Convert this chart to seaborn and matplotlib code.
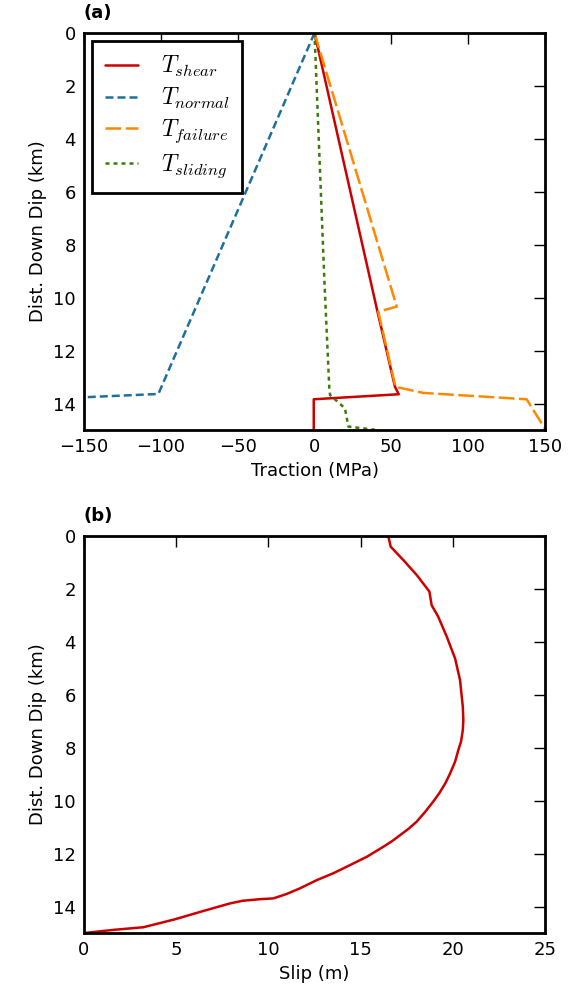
import matplotlib
matplotlib.use("Agg")
import matplotlib.pyplot as plt
import seaborn as sns

# Panel (a): tractions vs distance down dip
shear_x = [0, 40.7, 52.3, 54.8, -0.5, -0.5]
shear_y = [0, 10.46, 13.36, 13.65, 13.84, 15.0]

normal_x = [0, -101.6, -152]
normal_y = [0, 13.64, 13.77]

failure_x = [0, 53.5, 41.5, 52.7, 70.8, 138, 150.5]
failure_y = [0, 10.34, 10.53, 13.37, 13.6, 13.84, 15.0]

sliding_x = [0, 6.4, 9.6, 10.1, 19.8, 22, 40]
sliding_y = [0, 9.33, 13.4, 13.68, 14.18, 14.87, 15.0]

# Panel (b): slip profile
slip = [16.5, 16.63, 17.32, 18.04, 18.73, 18.85, 19.21, 19.67, 20.12, 20.39,
        20.54, 20.57, 20.54, 20.45, 20.3, 20.12, 19.85, 19.6, 19.28, 18.94,
        18.5, 18.04, 17.6, 17.14, 16.7, 16.23, 15.33, 14.43, 13.52, 12.62,
        11.71, 11.0, 10.27, 9.54, 8.6, 7.92, 6.4, 4.93, 3.22, 1.59, 0]
depth = [0, 0.40, 0.91, 1.47, 2.10, 2.61, 3.05, 3.80, 4.62, 5.44,
         6.45, 6.95, 7.33, 7.75, 8.08, 8.53, 8.97, 9.33, 9.7, 10.03,
         10.42, 10.79, 11.06, 11.3, 11.53, 11.74, 12.12, 12.43, 12.74, 13.0,
         13.31, 13.52, 13.69, 13.72, 13.78, 13.88, 14.18, 14.48, 14.78, 14.88, 15.0]

sns.set_style("white")
plt.rcParams.update({
    "font.family": ["DejaVu Sans"],
    "mathtext.fontset": "cm",
    "axes.linewidth": 2,
    "axes.edgecolor": "black",
    "text.color": "black",
    "axes.labelcolor": "black",
    "xtick.color": "black",
    "ytick.color": "black",
    "xtick.direction": "in",
    "ytick.direction": "in",
    "xtick.top": True,
    "ytick.right": True,
    "xtick.major.size": 8,
    "ytick.major.size": 8,
    "xtick.major.width": 1,
    "ytick.major.width": 1,
    "xtick.major.pad": 6,
    "ytick.major.pad": 6,
    "font.size": 13,
})

fig = plt.figure(figsize=(5.78, 9.99), dpi=100)
ax1 = fig.add_axes([0.1453, 0.5696, 0.7977, 0.3974])
ax2 = fig.add_axes([0.1453, 0.066, 0.7977, 0.3974])

red = "#cc0000"
blue = "#1f6f9c"
orange = "#ff8800"
green = "#3d7a0a"
lw = 1.8
blue_d = [3.2, 1.6]
orange_d = [6.3, 1.8]
green_d = [1.6, 1.6]

sns.lineplot(x=shear_x, y=shear_y, sort=False, estimator=None, ax=ax1,
             color=red, lw=lw, label=r"$T_{shear}$")
sns.lineplot(x=normal_x, y=normal_y, sort=False, estimator=None, ax=ax1,
             color=blue, lw=lw, label=r"$T_{normal}$")
ax1.lines[-1].set_dashes(blue_d)
sns.lineplot(x=failure_x, y=failure_y, sort=False, estimator=None, ax=ax1,
             color=orange, lw=lw, label=r"$T_{failure}$")
ax1.lines[-1].set_dashes(orange_d)
sns.lineplot(x=sliding_x, y=sliding_y, sort=False, estimator=None, ax=ax1,
             color=green, lw=lw, label=r"$T_{sliding}$")
ax1.lines[-1].set_dashes(green_d)

ax1.set_xlim(-150, 150)
ax1.set_ylim(15, 0)
ax1.set_xticks([-150, -100, -50, 0, 50, 100, 150])
ax1.set_xticklabels(["\u2212150", "\u2212100", "\u221250", "0", "50", "100", "150"])
ax1.set_yticks(range(0, 16, 2))
ax1.set_xlabel("Traction (MPa)", fontsize=13)
ax1.set_ylabel("Dist. Down Dip (km)", fontsize=13)
ax1.set_title("(a)", loc="left", fontweight="bold", fontsize=13, x=0.0, pad=11)

leg = ax1.legend(loc="upper left", fontsize=17, handlelength=1.4,
                 handletextpad=0.95, borderpad=0.55, labelspacing=0.28,
                 fancybox=False, framealpha=1, edgecolor="black",
                 borderaxespad=0.35)
leg.get_frame().set_linewidth(2)
handles = leg.get_lines()
handles[1].set_dashes(blue_d)
handles[2].set_dashes(orange_d)
handles[3].set_dashes(green_d)

sns.lineplot(x=slip, y=depth, sort=False, estimator=None, ax=ax2,
             color=red, lw=lw)
ax2.set_xlim(0, 25)
ax2.set_ylim(15, 0)
ax2.set_yticks(range(0, 16, 2))
ax2.set_xlabel("Slip (m)", fontsize=13)
ax2.set_ylabel("Dist. Down Dip (km)", fontsize=13)
ax2.set_title("(b)", loc="left", fontweight="bold", fontsize=13, x=0.0, pad=11)

for ax in (ax1, ax2):
    ax.tick_params(labelsize=13)

fig.savefig("out.png", dpi=100)
